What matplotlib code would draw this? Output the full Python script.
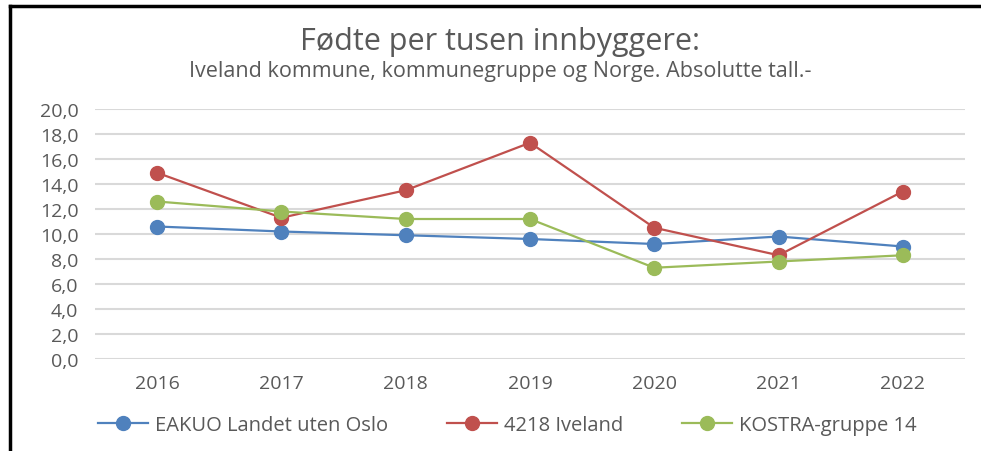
import matplotlib
matplotlib.use("Agg")
import matplotlib.pyplot as plt
from matplotlib.lines import Line2D

# data
years = ["2016", "2017", "2018", "2019", "2020", "2021", "2022"]
eakuo = [10.6, 10.2, 9.9, 9.6, 9.2, 9.8, 9.0]
iveland = [14.9, 11.3, 13.5, 17.3, 10.5, 8.3, 13.4]
kostra = [12.6, 11.8, 11.2, 11.2, 7.3, 7.8, 8.3]

series = [
    ("EAKUO Landet uten Oslo", eakuo, "#4F81BD"),
    ("4218 Iveland", iveland, "#C0504D"),
    ("KOSTRA-gruppe 14", kostra, "#9BBB59"),
]

plt.rcParams["font.family"] = ["Open Sans", "DejaVu Sans"]
txt = "#595959"

W, H = 981, 452
fig = plt.figure(figsize=(W / 100, H / 100), dpi=100)
ax = fig.add_axes([95 / W, 1 - 360 / H, 870 / W, 250 / H])

x = range(len(years))
for name, vals, col in series:
    ax.plot(x, vals, color=col, lw=1.6, marker="o", markersize=10,
            label=name, zorder=3)

ax.set_xlim(-0.5, len(years) - 0.5)
ax.set_ylim(0, 20)
ax.set_yticks(range(0, 21, 2))
ax.set_yticklabels([f"{v:.1f}".replace(".", ",") for v in range(0, 21, 2)])
ax.set_xticks(list(x))
ax.set_xticklabels(years)
ax.grid(axis="y", color="#D9D9D9", lw=1.5)
ax.set_axisbelow(True)
for s in ax.spines.values():
    s.set_visible(False)
ax.tick_params(length=0, colors=txt, labelsize=14)
ax.tick_params(axis="y", pad=12)
ax.tick_params(axis="x", pad=11)

fig.text(0.51, 1 - 42 / H, "Fødte per tusen innbyggere:", ha="center",
         va="center", fontsize=22, color=txt)
fig.text(0.51, 1 - 72 / H,
         "Iveland kommune, kommunegruppe og Norge. Absolutte tall.-",
         ha="center", va="center", fontsize=15.5, color=txt)

leg = fig.legend(loc="center", bbox_to_anchor=(0.517, 1 - 426 / H), ncol=3,
                 frameon=False, fontsize=14.5, handlelength=2.5,
                 columnspacing=2.9, handletextpad=0.35)
for t in leg.get_texts():
    t.set_color(txt)

# frame lines of the original screenshot
fig.add_artist(Line2D([10 / W, 10 / W], [0, 1 - 7 / H], color="black",
                      lw=2.5, transform=fig.transFigure))
fig.add_artist(Line2D([10 / W, 1], [1 - 7 / H, 1 - 7 / H], color="black",
                      lw=2.5, transform=fig.transFigure))

fig.savefig("out.png", dpi=100)
